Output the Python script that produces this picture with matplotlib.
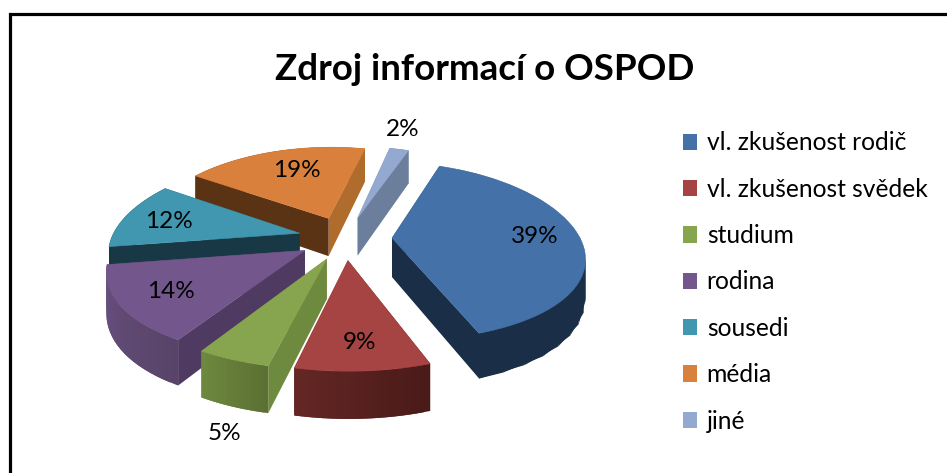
import numpy as np
import matplotlib
matplotlib.use('Agg')
import matplotlib.pyplot as plt
from matplotlib.patches import Polygon, Patch, Rectangle

plt.rcParams['font.family'] = ['Lato', 'DejaVu Sans']

# Data
categories = ['vl. zkušenost rodič', 'vl. zkušenost svědek', 'studium', 'rodina', 'sousedi', 'média', 'jiné']
values = [39, 9, 5, 14, 12, 19, 2]
title = 'Zdroj informací o OSPOD'

# Colours per slice: top, wall at start edge, wall at end edge, arc start, arc end
topColors = ['#4472A8', '#A54442', '#87A44F', '#72568C', '#4097AF', '#D9813C', '#93A9CF']
startWall = ['#1B2E47', '#4A1A18', '#6D8A3E', '#4F3B62', '#193846', '#5A3214', '#6B7F9C']
endWall = ['#1B2E47', '#652725', '#6F8A40', '#4F3B62', '#193846', '#B06C2C', '#6B7F9C']
arcStart = ['#1B2E47', '#4A1A18', '#5B7033', '#584468', '#193846', '#5A3214', '#6B7F9C']
arcEnd = ['#1B2E47', '#652725', '#6F8A40', '#6A5184', '#193846', '#B06C2C', '#6B7F9C']
labelPos = [(535, 236), (359, 342), (224, 433), (171, 291), (169, 221), (297, 170), (403, 129)]

# Pie projection, all in image pixels
cx, cy = 345, 238
radiusX, radiusY = 188, 87
perspX, perspY = 0.19, 0.147
depth = 39
explode = 0.25
startAngle = 20


def project(x, y, bottom=False):
    fx = 1 / (1 + perspX * y)
    fy = 1 / (1 + perspY * y)
    sx = cx + radiusX * x * fx
    sy = cy - radiusY * y * fy
    if bottom:
        sy = sy + depth * fy
    return sx, sy


def blend(c1, c2, t):
    a = np.array(matplotlib.colors.to_rgb(c1))
    b = np.array(matplotlib.colors.to_rgb(c2))
    return tuple(a + (b - a) * t)


def drawWall(ax, p, q, color, z):
    # p and q are plane points, wall goes down from the top edge
    pts = [project(*p), project(*q), project(*q, bottom=True), project(*p, bottom=True)]
    ax.add_patch(Polygon(pts, closed=True, facecolor=color, edgecolor='none', zorder=z))


fig = plt.figure(figsize=(9.47, 4.73), dpi=100)
ax = fig.add_axes([0, 0, 1, 1])
ax.set_xlim(0, 947)
ax.set_ylim(473, 0)
ax.axis('off')

# Frame runs off the right and bottom edges
ax.add_patch(Rectangle((9.5, 14.5), 1000, 1000, facecolor='white', edgecolor='black', linewidth=2.3, zorder=0))

angles = np.cumsum([0] + values) / sum(values) * 360 + startAngle
slices = []
for i in range(len(values)):
    a0, a1 = angles[i], angles[i + 1]
    mid = np.radians((a0 + a1) / 2)
    ox, oy = explode * np.sin(mid), explode * np.cos(mid)
    slices.append((oy + 0.5 * np.cos(mid), i, a0, a1, ox, oy))

# Back slices first, each slice gets walls and then its top
z = 1
for _, i, a0, a1, ox, oy in sorted(slices, reverse=True):
    theta = np.radians(np.linspace(a0, a1, 61))
    arcX = ox + np.sin(theta)
    arcY = oy + np.cos(theta)
    apex = (ox, oy)

    walls = [((oy + arcY[0]) / 2, 'start'), ((oy + arcY[-1]) / 2, 'end'), (arcY.mean(), 'arc')]
    for _, kind in sorted(walls, reverse=True):
        if kind == 'start':
            drawWall(ax, apex, (arcX[0], arcY[0]), startWall[i], z)
        elif kind == 'end':
            drawWall(ax, apex, (arcX[-1], arcY[-1]), endWall[i], z)
        else:
            # strips overlap their neighbour so no seams show
            for j in range(0, 60, 3):
                k = min(j + 6, 60)
                c = blend(arcStart[i], arcEnd[i], j / 60)
                drawWall(ax, (arcX[j], arcY[j]), (arcX[k], arcY[k]), c, z)
                z += 1
        z += 1

    top = [project(*apex)] + [project(x, y) for x, y in zip(arcX, arcY)]
    ax.add_patch(Polygon(top, closed=True, facecolor=topColors[i], edgecolor=topColors[i], linewidth=0.4, zorder=z))
    z += 1

for v, pos in zip(values, labelPos):
    ax.text(pos[0], pos[1], f'{v}%', ha='center', va='center', fontsize=17.5, color='black', zorder=z)

ax.text(485, 69, title, ha='center', va='center', fontsize=26.5, fontweight='bold', color='black', zorder=z)

handles = [Patch(facecolor=c, edgecolor='none') for c in topColors]
legend = ax.legend(handles, categories, loc='upper left', bbox_to_anchor=(676 / 947, 1 - 124 / 473),
                   bbox_transform=fig.transFigure, frameon=False, fontsize=17.7,
                   handlelength=0.57, handleheight=0.65, handletextpad=0.38,
                   labelspacing=0.95, borderaxespad=0, borderpad=0.3)
legend.set_zorder(z)

fig.savefig('out.png', dpi=100)
